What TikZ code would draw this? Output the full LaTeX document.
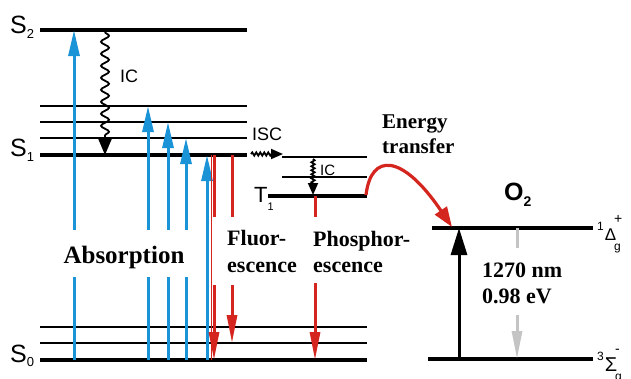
\documentclass[tikz,border=0pt]{standalone}
\usepackage{fontspec}
\setmainfont{Liberation Serif}
\setsansfont{Liberation Sans}
\usetikzlibrary{arrows.meta,decorations.pathmorphing}
\definecolor{absblue}{RGB}{26,148,214}
\definecolor{emitred}{RGB}{212,38,30}
\definecolor{lumgrey}{RGB}{196,196,196}
\tikzset{
  lvlthick/.style={line width=4pt},
  lvlthin/.style={line width=1.8pt},
  absorb/.style={draw=absblue, line width=3pt, -{Triangle[length=26pt,width=11pt]}},
  absline/.style={draw=absblue, line width=3pt},
  emit/.style={draw=emitred, line width=3pt, -{Triangle[length=28pt,width=10pt]}},
  emitline/.style={draw=emitred, line width=3pt},
  bigwave/.style={line width=1.8pt, decorate,
     decoration={snake, amplitude=4pt, segment length=12pt, post length=16pt},
     -{Triangle[length=16pt,width=13pt]}},
  smallwave/.style={line width=1.8pt, decorate,
     decoration={snake, amplitude=1.6pt, segment length=4pt, post length=11pt},
     -{Triangle[length=12pt,width=10pt]}},
  serifbold/.style={inner sep=0pt, font=\bfseries\fontsize{22}{22}\selectfont},
  sanslabel/.style={inner sep=0pt, font=\sffamily\fontsize{25}{25}\selectfont},
}
\newcommand{\lowsub}[2]{\raisebox{#1}{\fontsize{13}{13}\selectfont #2}}
\begin{document}
\begin{tikzpicture}[x=1pt,y=-1pt]
\useasboundingbox (0,0) rectangle (631,378);

% ---------- singlet levels ----------
\coordinate (S2l) at (40,30);  \coordinate (S2r) at (247,30);
\coordinate (v3l) at (40,106); \coordinate (v3r) at (247,106);
\coordinate (v2l) at (40,122); \coordinate (v2r) at (247,122);
\coordinate (v1l) at (40,138); \coordinate (v1r) at (247,138);
\coordinate (S1l) at (40,155); \coordinate (S1r) at (247,155);
\coordinate (g2l) at (40,327); \coordinate (g2r) at (367,327);
\coordinate (g1l) at (40,343); \coordinate (g1r) at (367,343);
\coordinate (S0l) at (40,360); \coordinate (S0r) at (367,360);
\draw[lvlthick] (S2l) -- (S2r);
\draw[lvlthin] (v3l) -- (v3r);
\draw[lvlthin] (v2l) -- (v2r);
\draw[lvlthin] (v1l) -- (v1r);
\draw[lvlthick] (S1l) -- (S1r);
\draw[lvlthin] (g2l) -- (g2r);
\draw[lvlthin] (g1l) -- (g1r);
\draw[lvlthick] (S0l) -- (S0r);

% ---------- triplet levels ----------
\coordinate (t2l) at (282,157); \coordinate (t2r) at (367,157);
\coordinate (t1l) at (282,177); \coordinate (t1r) at (367,177);
\coordinate (T1l) at (268,196); \coordinate (T1r) at (367,196);
\draw[lvlthin] (t2l) -- (t2r);
\draw[lvlthin] (t1l) -- (t1r);
\draw[lvlthick] (T1l) -- (T1r);

% ---------- oxygen levels ----------
\coordinate (D1l) at (432,228); \coordinate (D1r) at (593,228);
\coordinate (Z3l) at (428,359); \coordinate (Z3r) at (593,359);
\draw[lvlthick] (D1l) -- (D1r);
\draw[lvlthick] (Z3l) -- (Z3r);

% ---------- absorption arrows ----------
\foreach \x/\ty in {74/30, 148/106, 168/122, 186/138}{
  \draw[absline] (\x,360) -- (\x,277);
  \draw[absorb] (\x,230) -- (\x,\ty);
}
\draw[absorb] (207,360) -- (207,155);
\node[serifbold, font=\bfseries\fontsize{25}{25}\selectfont, anchor=base] (abs) at (124,263) {Absorption};

% ---------- fluorescence ----------
\draw[emitred, line width=0.9pt] (211,155) -- (211,360);
\draw[emitline] (214,155) -- (214,217);
\draw[emit] (214,285) -- (214,360);
\draw[emitline] (232,155) -- (232,217);
\draw[emit] (232,285) -- (232,343);
\node[serifbold, anchor=base west] (fl1) at (227,245) {Fluor-};
\node[serifbold, anchor=base west] (fl2) at (227,272) {escence};

% ---------- phosphorescence ----------
\draw[emitline] (315,196) -- (315,217);
\draw[emit] (315,283) -- (315,360);
\node[serifbold, anchor=base west] (ph1) at (313,246) {Phosphor-};
\node[serifbold, anchor=base west] (ph2) at (313,272) {escence};

% ---------- internal conversion / ISC ----------
\coordinate (icA) at (105,32); \coordinate (icB) at (105,155);
\draw[bigwave] (icA) -- (icB);
\node[inner sep=0pt, font=\sffamily\fontsize{18}{18}\selectfont, anchor=base west] (ic1) at (120,82) {IC};

\coordinate (iscA) at (251,154); \coordinate (iscB) at (283,154);
\draw[smallwave] (iscA) -- (iscB);
\node[inner sep=0pt, font=\sffamily\fontsize{18}{18}\selectfont, anchor=base west] (isc) at (252,140) {ISC};

\coordinate (ic2A) at (313,159); \coordinate (ic2B) at (313,195);
\draw[smallwave] (ic2A) -- (ic2B);
\node[inner sep=0pt, font=\sffamily\fontsize{15}{15}\selectfont, anchor=base west] (ic2) at (320,175) {IC};

% ---------- energy transfer ----------
\coordinate (etA) at (366,195); \coordinate (etB) at (452,227);
\draw[emitred, line width=3.2pt, -{Triangle[length=20pt,width=14pt]}]
  (etA) .. controls (371,153) and (402,153) .. (etB);
\node[serifbold, font=\bfseries\fontsize{21}{21}\selectfont, anchor=base west] (en1) at (382,128) {Energy};
\node[serifbold, font=\bfseries\fontsize{21}{21}\selectfont, anchor=base west] (en2) at (382,153) {transfer};

% ---------- oxygen transitions ----------
\draw[line width=3pt, -{Triangle[length=27pt,width=16pt]}] (459,359) -- (459,228);
\draw[lumgrey, line width=3pt] (517,228) -- (517,248);
\draw[lumgrey, line width=3pt, -{Triangle[length=28pt,width=10pt]}] (517,315) -- (517,359);
\node[serifbold, anchor=base west] (nm) at (482,277) {1270 nm};
\node[serifbold, anchor=base west] (ev) at (482,303) {0.98 eV};

% ---------- level labels ----------
\node[sanslabel, anchor=base west] (lS2) at (10,33) {S\lowsub{-5pt}{2}};
\node[sanslabel, anchor=base west] (lS1) at (10,156) {S\lowsub{-5pt}{1}};
\node[sanslabel, anchor=base west] (lS0) at (10,362) {S\lowsub{-4pt}{0}};
\node[sanslabel, font=\sffamily\fontsize{22}{22}\selectfont, anchor=base west] (lT1) at (254,202) {T\raisebox{-8pt}{\fontsize{11}{11}\selectfont 1}};
\node[inner sep=0pt, font=\sffamily\bfseries\fontsize{25}{25}\selectfont, anchor=base west] (lO2) at (504,200) {O\raisebox{-6pt}{\fontsize{14}{14}\selectfont 2}};
\node[inner sep=0pt, font=\sffamily\fontsize{17}{17}\selectfont, anchor=base west] (lD) at (597,240)
  {\raisebox{10pt}{\fontsize{12}{12}\selectfont 1}\kern1pt Δ\kern-2pt\rlap{\raisebox{-10pt}{\fontsize{12}{12}\selectfont g}}\raisebox{17pt}{\fontsize{14}{14}\selectfont +}};
\node[inner sep=0pt, font=\sffamily\fontsize{20}{20}\selectfont, anchor=base west] (lZ) at (597,371)
  {\raisebox{11pt}{\fontsize{12}{12}\selectfont 3}\kern1pt Σ\kern-2pt\rlap{\raisebox{-9pt}{\fontsize{12}{12}\selectfont g}}\raisebox{18pt}{\fontsize{14}{14}\selectfont -}};
\end{tikzpicture}
\end{document}
